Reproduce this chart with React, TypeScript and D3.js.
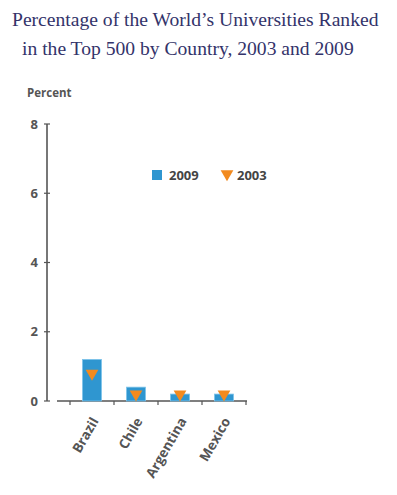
import * as d3 from 'd3';

const countries = ['Brazil', 'Chile', 'Argentina', 'Mexico'];
const values2009 = [1.2, 0.4, 0.2, 0.2];
const values2003 = [0.8, 0.2, 0.2, 0.2];
const yTicks = [0, 2, 4, 6, 8];

const W = 397;
const H = 495;
const axisColor = '#555';
const blue = '#2f96d0';
const orange = '#f28a1e';
const sans = '"Open Sans", Lato, sans-serif';

export default function App() {
	const x = d3.scaleBand<string>().domain(countries).range([70, 246]).paddingInner(0.57).paddingOuter(0.285);
	const y = d3.scaleLinear().domain([0, 8]).range([401, 124]);

	const tri = d3.symbol().type(d3.symbolTriangle).size(70)();
	const boundaries = d3.range(countries.length + 1).map((i) => 70 + (i * (246 - 70)) / countries.length);

	return (
		<svg width={W} height={H} style={{ position: 'absolute', left: 0, top: 0, background: '#fff' }}>
			{/* заголовок */}
			<g fontFamily='"Liberation Serif", serif' fontSize={19.6} fill="#33336a">
				<text x={12} y={26}>
					Percentage of the World’s Universities Ranked
				</text>
				<text x={22} y={55}>
					in the Top 500 by Country, 2003 and 2009
				</text>
			</g>

			<text x={27} y={97} fontFamily={sans} fontWeight="bold" fontSize={11.5} fill={axisColor}>
				Percent
			</text>

			{/* ось Y */}
			<line x1={47} x2={47} y1={y(8)} y2={y(0)} stroke={axisColor} strokeWidth={1.6} />
			{yTicks.map((t) => (
				<g key={t}>
					<line x1={44} x2={50} y1={y(t)} y2={y(t)} stroke={axisColor} strokeWidth={1.2} />
					<text x={38} y={y(t)} dy="0.35em" textAnchor="end" fontFamily={sans} fontWeight="bold" fontSize={13} fill={axisColor}>
						{t}
					</text>
				</g>
			))}

			{/* ось X */}
			<line x1={57} x2={247} y1={y(0)} y2={y(0)} stroke={axisColor} strokeWidth={1.6} />
			{boundaries.map((b, i) => (
				<line key={i} x1={b} x2={b} y1={y(0)} y2={y(0) + 4} stroke={axisColor} strokeWidth={1.2} />
			))}

			{/* столбцы 2009 */}
			{countries.map((c, i) => (
				<rect
					key={c}
					x={x(c)}
					y={y(values2009[i])}
					width={x.bandwidth()}
					height={y(0) - y(values2009[i])}
					fill={blue}
					stroke="#7cc3ea"
					strokeWidth={0.8}
				/>
			))}

			{/* маркеры 2003 */}
			{countries.map((c, i) => (
				<path
					key={c}
					d={tri!}
					transform={`translate(${x(c)! + x.bandwidth() / 2}, ${y(values2003[i])}) rotate(180)`}
					fill={orange}
				/>
			))}

			{/* подписи стран */}
			{countries.map((c) => (
				<text
					key={c}
					transform={`translate(${x(c)! + x.bandwidth() / 2 + 7}, ${y(0) + 20}) rotate(-60)`}
					textAnchor="end"
					fontFamily={sans}
					fontWeight="bold"
					fontSize={13.5}
					fill={axisColor}
				>
					{c}
				</text>
			))}

			{/* легенда */}
			<rect x={152} y={170} width={10} height={10} fill={blue} />
			<text x={169} y={180} fontFamily={sans} fontWeight="bold" fontSize={13} fill="#444">
				2009
			</text>
			<path d={tri!} transform="translate(227, 174) rotate(180)" fill={orange} />
			<text x={237} y={180} fontFamily={sans} fontWeight="bold" fontSize={13} fill="#444">
				2003
			</text>
		</svg>
	);
}
